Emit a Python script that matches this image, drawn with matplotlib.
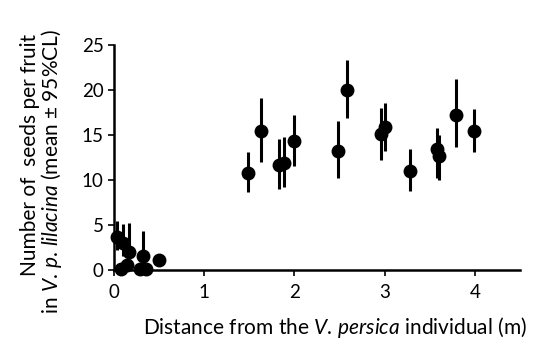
import matplotlib.pyplot as plt

plt.rcParams['font.family'] = ['Lato', 'DejaVu Sans']
plt.rcParams['mathtext.fontset'] = 'custom'
plt.rcParams['mathtext.rm'] = 'Lato'
plt.rcParams['mathtext.it'] = 'Lato:italic'

# distance (m), mean seeds per fruit, 95% CL bounds
dist = [0.03, 0.10, 0.17, 0.32, 0.50, 0.08, 0.14, 0.29, 0.35,
        1.49, 1.63, 1.83, 1.89, 1.99, 2.48, 2.58, 2.96, 3.00,
        3.28, 3.58, 3.60, 3.79, 3.99]
seeds = [3.7, 3.0, 2.0, 1.5, 1.1, 0.1, 0.6, 0.1, 0.1,
         10.8, 15.4, 11.7, 11.9, 14.3, 13.2, 20.0, 15.1, 15.9,
         11.0, 13.4, 12.7, 17.2, 15.5]
ci_low = [2.2, 1.5, 1.2, 0.0, 0.6, 0.1, 0.1, 0.1, 0.1,
          8.7, 12.0, 9.0, 9.2, 11.6, 10.2, 16.9, 12.2, 13.2,
          8.8, 10.2, 10.0, 13.7, 13.1]
ci_high = [5.4, 5.1, 5.2, 4.3, 1.6, 0.1, 1.2, 0.1, 0.1,
           13.1, 19.1, 14.6, 14.8, 17.2, 16.6, 23.3, 18.0, 18.6,
           13.4, 15.8, 15.0, 21.2, 17.9]

lo = [m - l for m, l in zip(seeds, ci_low)]
hi = [h - m for m, h in zip(seeds, ci_high)]

fig = plt.figure(figsize=(5.4, 3.47), dpi=100)
ax = fig.add_axes([0.211, 0.222, 0.752, 0.648])

ax.errorbar(dist, seeds, yerr=[lo, hi], fmt='o', color='black', ms=9,
            elinewidth=2.2, capsize=0, clip_on=False, zorder=3)

ax.set_xlim(0, 4.5)
ax.set_ylim(0, 25)
ax.set_xticks([0, 1, 2, 3, 4])
ax.set_yticks([0, 5, 10, 15, 20, 25])
ax.spines['top'].set_visible(False)
ax.spines['right'].set_visible(False)
for s in ('left', 'bottom'):
    ax.spines[s].set_linewidth(1.8)
ax.tick_params(labelsize=13.5, width=1.2, length=4, direction='out')
ax.tick_params(axis='x', pad=6)

fig.text(335 / 540, 1 - 328 / 347,
         r'Distance from the $\mathit{V.\!\ persica}$ individual (m)',
         ha='center', va='center', fontsize=15)
fig.text(30 / 540, 1 - 155 / 347, 'Number of  seeds per fruit',
         rotation=90, ha='center', va='center', fontsize=15)
fig.text(52 / 540, 1 - 171 / 347,
         r'in $\mathit{V.\!\ p.\!\ lilacina}$ (mean ± 95%CL)',
         rotation=90, ha='center', va='center', fontsize=15)

fig.savefig('out.png', dpi=100)
